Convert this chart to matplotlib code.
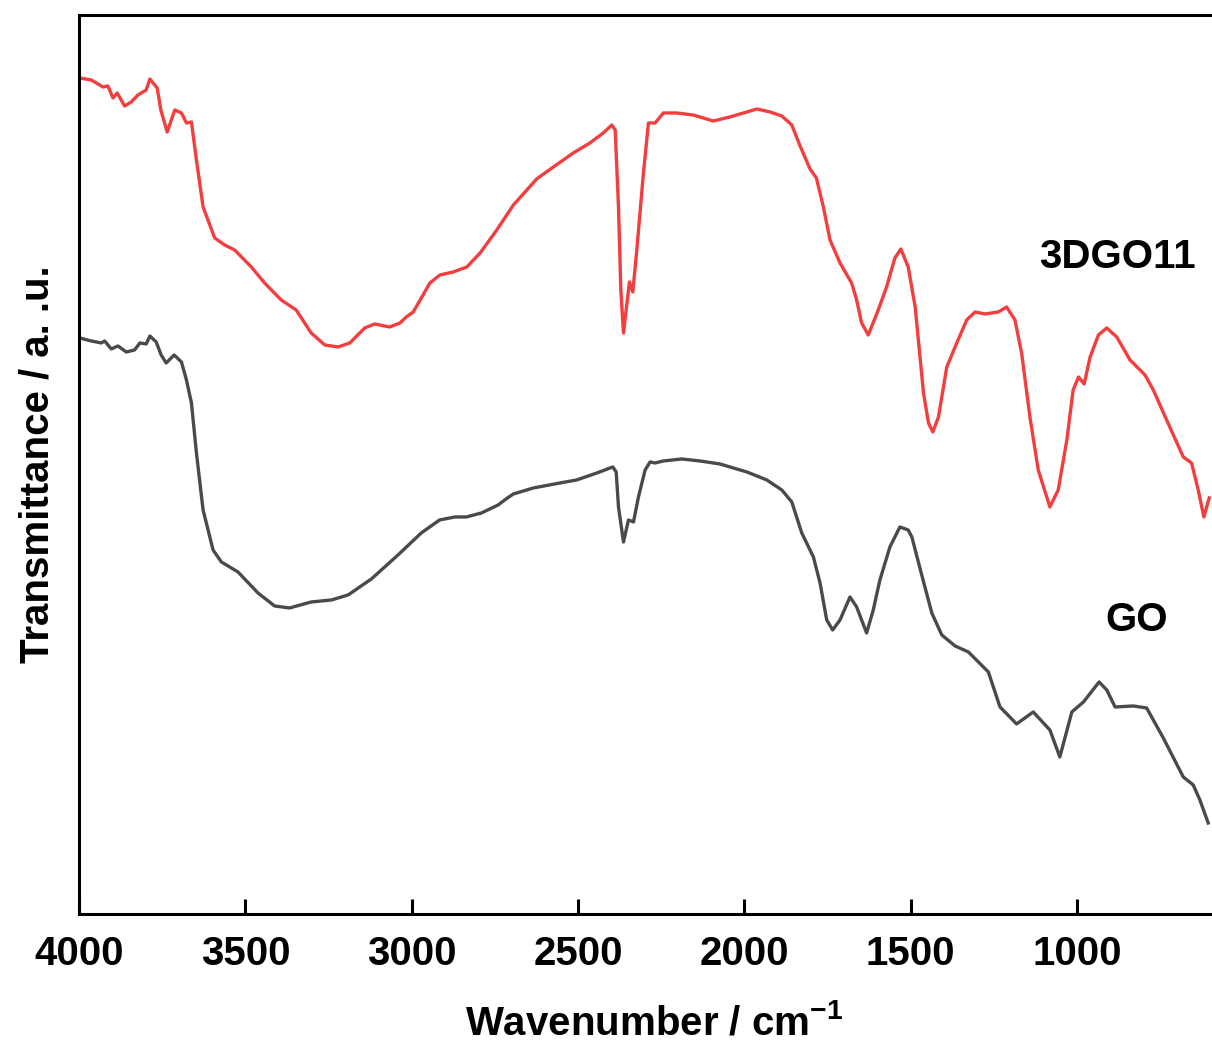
import matplotlib
matplotlib.use("Agg")
import matplotlib.pyplot as plt

plt.rcParams['font.family'] = ['Liberation Sans', 'DejaVu Sans']
plt.rcParams['font.weight'] = 'bold'
plt.rcParams['mathtext.fontset'] = 'custom'
plt.rcParams['mathtext.rm'] = 'Liberation Sans:bold'
plt.rcParams['mathtext.bf'] = 'Liberation Sans:bold'

# 3DGO11 spectrum (wavenumber, transmittance a.u.)
wn_3dgo = [3998, 3963, 3928, 3913, 3898, 3885, 3863, 3843, 3823, 3798, 3787, 3765,
           3754, 3735, 3712, 3692, 3677, 3662, 3647, 3627, 3592, 3562, 3532, 3482,
           3442, 3392, 3347, 3302, 3261, 3221, 3186, 3141, 3111, 3066, 3035, 3016,
           2995, 2945, 2915, 2875, 2834, 2794, 2744, 2694, 2624, 2574, 2514, 2464,
           2424, 2398, 2388, 2378, 2371, 2363, 2355, 2345, 2335, 2323, 2303, 2288,
           2268, 2243, 2203, 2153, 2093, 2043, 1992, 1962, 1922, 1887, 1857, 1832,
           1802, 1783, 1762, 1742, 1712, 1677, 1662, 1647, 1627, 1597, 1572, 1547,
           1529, 1507, 1486, 1461, 1446, 1433, 1416, 1391, 1361, 1331, 1306, 1276,
           1236, 1211, 1186, 1166, 1141, 1116, 1081, 1056, 1030, 1011, 995, 978,
           960, 935, 910, 880, 840, 795, 770, 730, 680, 655, 635, 618, 602]
t_3dgo = [836, 834, 827, 828, 816, 821, 808, 812, 819, 824, 835, 826,
          804, 782, 804, 801, 791, 792, 754, 707, 676, 669, 664, 647,
          631, 614, 604, 581, 569, 567, 571, 586, 590, 587, 591, 597,
          602, 631, 639, 642, 647, 661, 684, 709, 735, 747, 761, 771,
          781, 789, 784, 707, 624, 581, 604, 632, 622, 664, 741, 791,
          791, 801, 801, 799, 793, 797, 802, 805, 802, 798, 789, 768,
          745, 736, 707, 674, 651, 631, 614, 591, 579, 604, 627, 656,
          665, 647, 607, 521, 491, 482, 497, 547, 571, 594, 602, 600,
          602, 607, 594, 561, 497, 444, 407, 424, 474, 524, 537, 530,
          557, 579, 586, 577, 554, 539, 524, 494, 457, 451, 424, 397, 416]

# GO spectrum
wn_go = [3998, 3963, 3933, 3923, 3903, 3883, 3858, 3833, 3817, 3798, 3787, 3768,
         3753, 3738, 3714, 3692, 3677, 3662, 3647, 3627, 3597, 3572, 3522, 3462,
         3412, 3367, 3302, 3241, 3191, 3121, 3041, 2971, 2916, 2870, 2836, 2790,
         2740, 2712, 2694, 2634, 2554, 2504, 2443, 2395, 2385, 2378, 2363, 2348,
         2333, 2318, 2298, 2283, 2268, 2243, 2188, 2133, 2073, 1992, 1932, 1887,
         1857, 1827, 1792, 1772, 1752, 1734, 1712, 1682, 1662, 1632, 1612, 1592,
         1562, 1532, 1507, 1496, 1471, 1436, 1406, 1366, 1326, 1266, 1231, 1181,
         1131, 1081, 1051, 1015, 980, 933, 910, 885, 830, 790, 740, 680, 650, 630, 605]
t_go = [576, 573, 571, 573, 565, 568, 562, 564, 571, 570, 578, 572,
        559, 551, 559, 552, 534, 511, 461, 404, 364, 352, 342, 321,
        308, 306, 312, 314, 319, 335, 359, 381, 394, 397, 397, 401,
        409, 416, 420, 426, 431, 434, 441, 447, 442, 407, 372, 394,
        392, 417, 444, 452, 451, 453, 455, 453, 450, 442, 434, 424,
        412, 381, 357, 331, 294, 284, 294, 317, 307, 281, 304, 334,
        367, 387, 384, 377, 345, 301, 279, 268, 262, 242, 207, 190,
        202, 184, 157, 202, 212, 232, 224, 207, 208, 206, 176, 137, 129, 114, 91]

x_ticks = [4000, 3500, 3000, 2500, 2000, 1500, 1000]

fig = plt.figure(figsize=(12.12, 10.48), dpi=100)
ax = fig.add_axes([0.0652, 0.1279, 0.9495, 0.8578])

ax.plot(wn_3dgo, t_3dgo, color='#F23E3E', lw=2.4, solid_joinstyle='round')
ax.plot(wn_go, t_go, color='#4A4A4A', lw=2.4, solid_joinstyle='round')

ax.set_xlim(4000, 540)
ax.set_ylim(0, 899)
ax.set_xticks(x_ticks)
ax.set_yticks([])
ax.tick_params(axis='x', direction='in', length=11, width=2.2, labelsize=29, pad=15)
for s in ax.spines.values():
    s.set_linewidth(2.2)

ax.set_xlabel('Wavenumber / cm$^{-1}$', fontsize=29, fontweight='bold', labelpad=22)
ax.set_ylabel('Transmittance / a. .u.', fontsize=29, fontweight='bold', labelpad=16)

ax.text(879, 657, '3DGO11', fontsize=29, fontweight='bold', ha='center', va='center')
ax.text(819, 294, 'GO', fontsize=29, fontweight='bold', ha='center', va='center')

fig.savefig('out.png', dpi=100)
